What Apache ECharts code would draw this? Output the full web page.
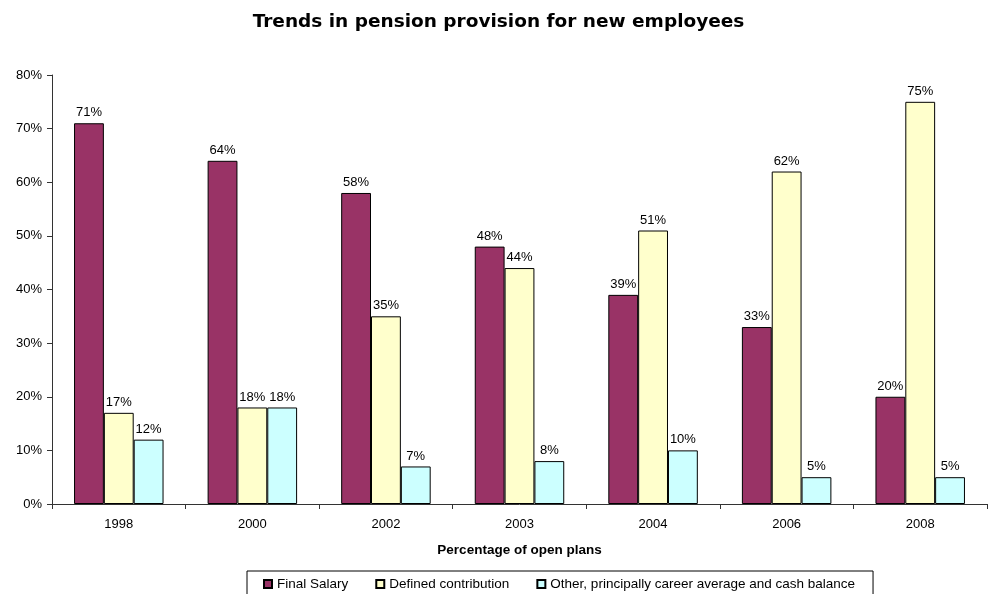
<!DOCTYPE html>
<html>
<head>
<meta charset="utf-8">
<script src="https://cdn.jsdelivr.net/npm/echarts@6/dist/echarts.min.js"></script>
<style>
  html, body { margin: 0; padding: 0; background: #fff; }
  #chart { width: 997px; height: 594px; }
</style>
</head>
<body>
<div id="chart"></div>
<script>
// Survey years on the category axis
const years = ['1998', '2000', '2002', '2003', '2004', '2006', '2008'];

// Share of open plans (%) by pension type
const finalSalary = [71, 64, 58, 48, 39, 33, 20];
const definedContribution = [17, 18, 35, 44, 51, 62, 75];
const otherCareerAverage = [12, 18, 7, 8, 10, 5, 5];

const seriesNames = [
  'Final Salary',
  'Defined contribution',
  'Other, principally career average and cash balance'
];
const seriesColors = ['#993366', '#FFFFCC', '#CCFFFF'];

const FONT = '"Liberation Sans", Arial, sans-serif';
const TITLE_FONT = '"DejaVu Sans", "Liberation Sans", Arial, sans-serif';

function barSeries(name, data, color) {
  return {
    name: name,
    type: 'bar',
    data: data,
    barGap: '0%',
    barCategoryGap: '33%',
    itemStyle: { color: color, borderColor: '#000', borderWidth: 1 },
    label: {
      show: true,
      position: 'top',
      distance: 4,
      formatter: '{c}%',
      color: '#000',
      fontFamily: FONT,
      fontSize: 13
    }
  };
}

const chart = echarts.init(document.getElementById('chart'), null, { renderer: 'canvas' });

chart.setOption({
  animation: false,
  backgroundColor: '#fff',
  title: {
    text: 'Trends in pension provision for new employees',
    left: 'center',
    top: 8,
    textStyle: { fontFamily: TITLE_FONT, fontSize: 18.5, fontWeight: 'bold', color: '#000' }
  },
  grid: { left: 52, right: 10, top: 75, bottom: 90 },
  xAxis: {
    type: 'category',
    data: years,
    name: 'Percentage of open plans',
    nameLocation: 'middle',
    nameGap: 39,
    nameTextStyle: { fontFamily: FONT, fontSize: 13.5, fontWeight: 'bold', color: '#000' },
    axisLine: { lineStyle: { color: '#333', width: 1 } },
    axisTick: { show: true, length: 5, inside: false, lineStyle: { color: '#333' } },
    axisLabel: { fontFamily: FONT, fontSize: 13, color: '#000', margin: 14 }
  },
  yAxis: {
    type: 'value',
    min: 0,
    max: 80,
    interval: 10,
    axisLine: { show: true, lineStyle: { color: '#333', width: 1 } },
    axisTick: { show: true, length: 5, inside: false, lineStyle: { color: '#333' } },
    splitLine: { show: false },
    axisLabel: { formatter: '{value}%', fontFamily: FONT, fontSize: 13, color: '#000', margin: 10 }
  },
  legend: {
    left: 247,
    top: 571,
    orient: 'horizontal',
    data: seriesNames,
    icon: 'rect',
    itemWidth: 8,
    itemHeight: 8,
    itemGap: 27,
    padding: [6, 18, 12, 16],
    borderColor: '#000',
    borderWidth: 1,
    borderRadius: 0,
    textStyle: { fontFamily: FONT, fontSize: 13.5, color: '#000' }
  },
  series: [
    barSeries(seriesNames[0], finalSalary, seriesColors[0]),
    barSeries(seriesNames[1], definedContribution, seriesColors[1]),
    barSeries(seriesNames[2], otherCareerAverage, seriesColors[2])
  ]
});
</script>
</body>
</html>
